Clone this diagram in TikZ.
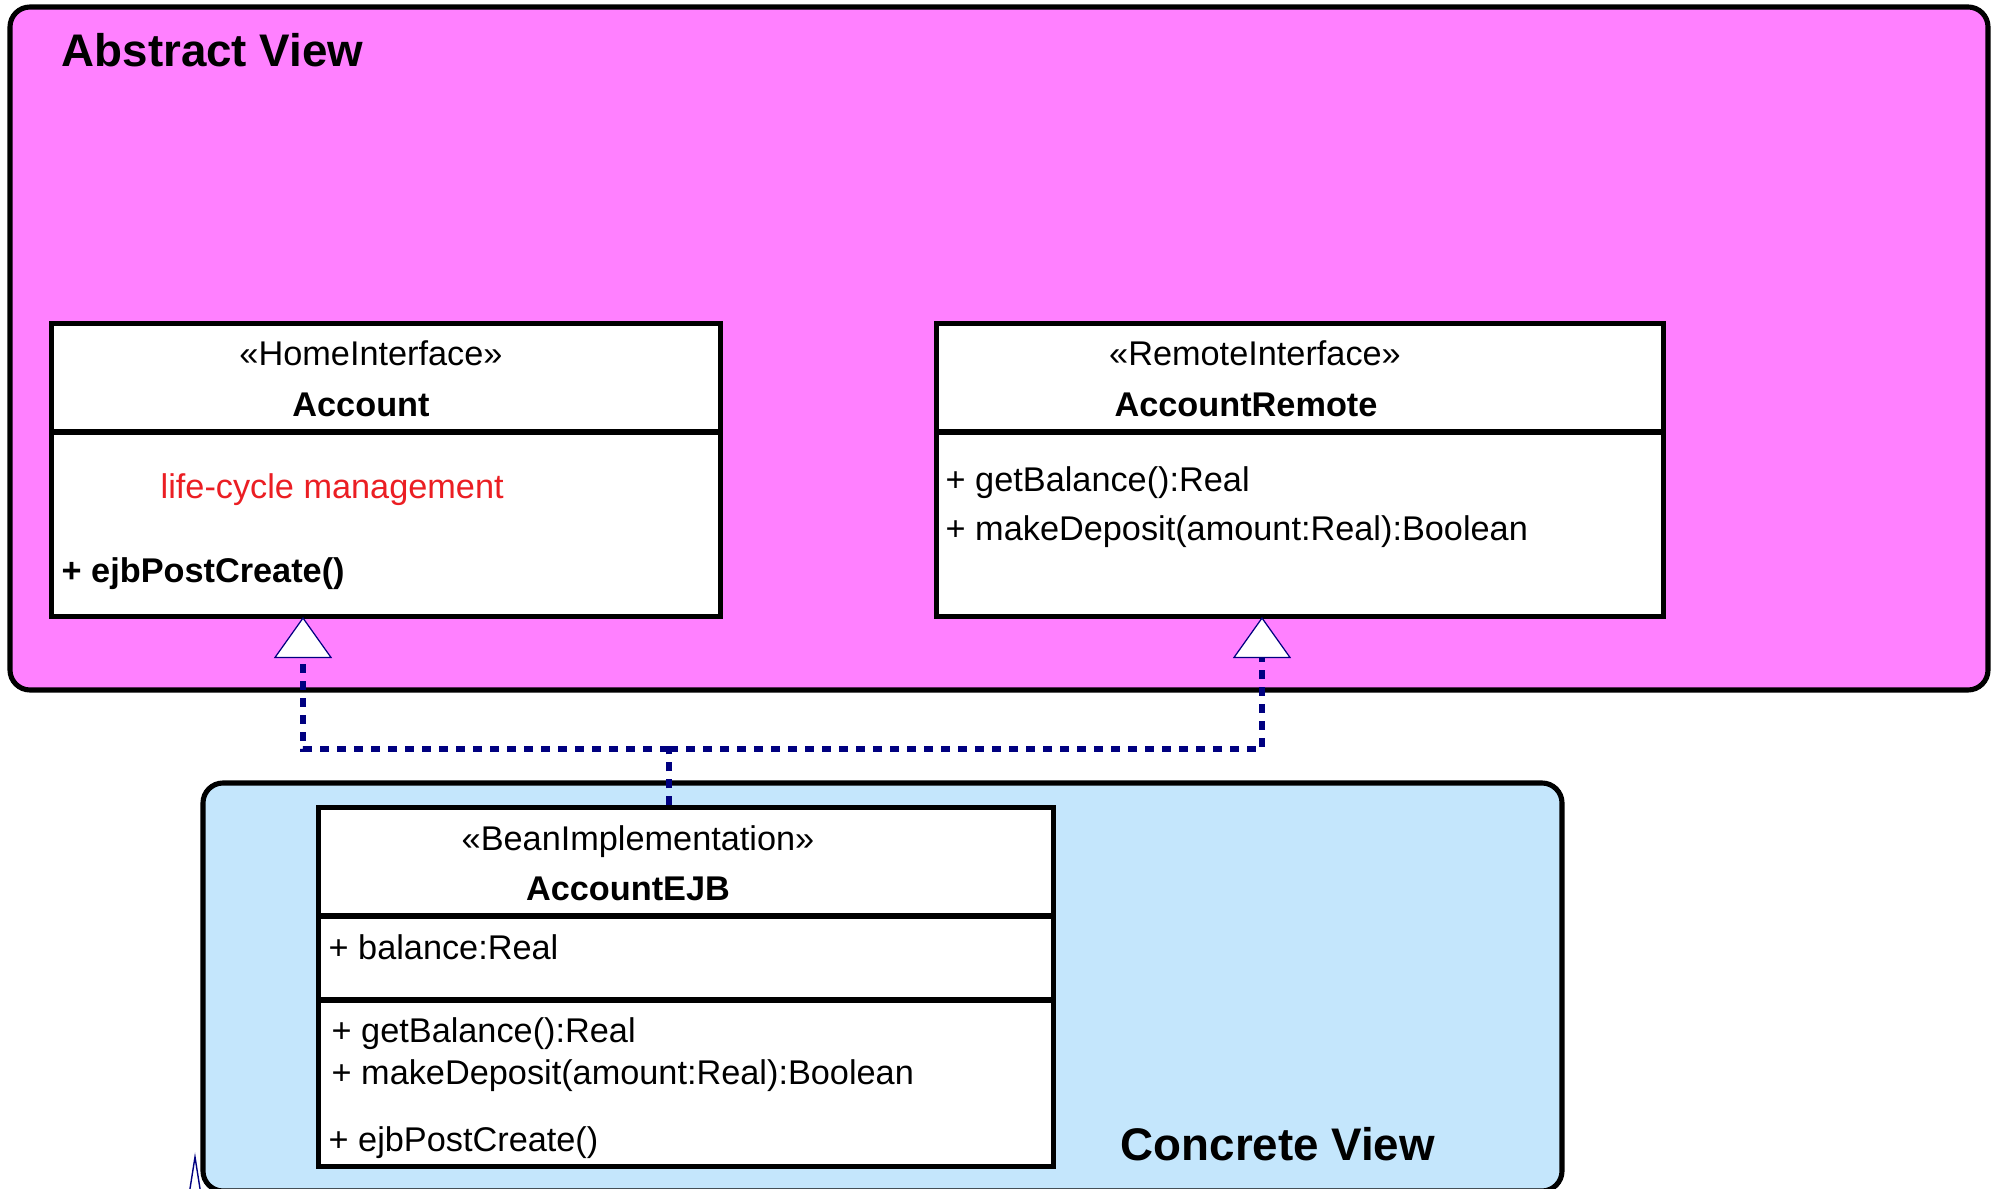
\documentclass[tikz,border=0pt]{standalone}
\usepackage{fontspec}
\setmainfont{Liberation Sans}
\usetikzlibrary{arrows.meta}
\definecolor{abstractpink}{RGB}{255,128,255}
\definecolor{concreteblue}{RGB}{196,230,252}
\definecolor{linknavy}{RGB}{0,0,128}
\definecolor{noteRed}{RGB}{235,30,35}
\begin{document}
\begin{tikzpicture}[x=0.01cm, y=-0.01cm,
    view/.style={draw, line width=1.45pt, rounded corners=0.2cm},
    umlclass/.style={draw, line width=1.45pt, fill=white, inner sep=0pt},
    txt/.style={inner sep=0pt, font=\fontsize{9.75}{12}\selectfont},
    btxt/.style={txt, font=\fontsize{9.75}{12}\selectfont\bfseries},
    title/.style={inner sep=0pt, font=\fontsize{13}{15}\selectfont\bfseries, anchor=base west},
    dashlink/.style={linknavy, line width=1.65pt, dash pattern=on 0.09cm off 0.08cm},
    realize/.style={dashlink,
        -{Triangle[fill=white, length=0.41cm, width=0.58cm, line width=0.35pt]}}]
\useasboundingbox (0,0) rectangle (1994,1189);

% the two views
\draw[view, fill=abstractpink] (10,7) rectangle (1988,690);
\node[title] (abstract) at (61,67) {Abstract View};
\draw[view, fill=concreteblue] (203,783) rectangle (1562,1191);

% home interface
\node[umlclass, minimum width=6.68cm, minimum height=2.92cm] (account) at (386,470) {};
\draw[line width=1.45pt] (52,432) -- (720,432);
\node[txt, anchor=base] (accstereo) at (371,366) {«HomeInterface»};
\node[btxt, anchor=base] (accname) at (361,417) {Account};
\node[txt, anchor=base west, text=noteRed] (lifecycle) at (160,499) {life-cycle management};
\node[btxt, anchor=base west] (accpost) at (61,583) {+ ejbPostCreate()};

% remote interface
\node[umlclass, minimum width=7.26cm, minimum height=2.92cm] (remote) at (1300,470) {};
\draw[line width=1.45pt] (937,432) -- (1663,432);
\node[txt, anchor=base] (remstereo) at (1255,366) {«RemoteInterface»};
\node[btxt, anchor=base] (remname) at (1246,417) {AccountRemote};
\node[txt, anchor=base west] (remget) at (945,492) {+ getBalance():Real};
\node[txt, anchor=base west] (remdeposit) at (945,541) {+ makeDeposit(amount:Real):Boolean};

% bean implementation
\node[umlclass, minimum width=7.34cm, minimum height=3.58cm] (ejb) at (686,987) {};
\draw[line width=1.45pt] (319,916) -- (1053,916);
\draw[line width=1.45pt] (319,1000) -- (1053,1000);
\node[txt, anchor=base] (ejbstereo) at (638,851) {«BeanImplementation»};
\node[btxt, anchor=base] (ejbname) at (628,900) {AccountEJB};
\node[txt, anchor=base west] (ejbbalance) at (328,959) {+ balance:Real};
\node[txt, anchor=base west] (ejbget) at (331,1042) {+ getBalance():Real};
\node[txt, anchor=base west] (ejbdeposit) at (331,1084) {+ makeDeposit(amount:Real):Boolean};
\node[txt, anchor=base west] (ejbpost) at (328,1151) {+ ejbPostCreate()};
\node[title] (concrete) at (1120,1160) {Concrete View};

% realizations
\coordinate (fork) at (669,749);
\coordinate (acctip) at (303,617);
\coordinate (remtip) at (1262,617);
\draw[dashlink] (fork |- ejb.north) -- (fork);
\draw[realize] (fork) -| (acctip);
\draw[realize] (fork) -| (remtip);

\draw[linknavy, line width=0.4pt] (189,1195) -- (195,1157) -- (201,1195);
\end{tikzpicture}
\end{document}
